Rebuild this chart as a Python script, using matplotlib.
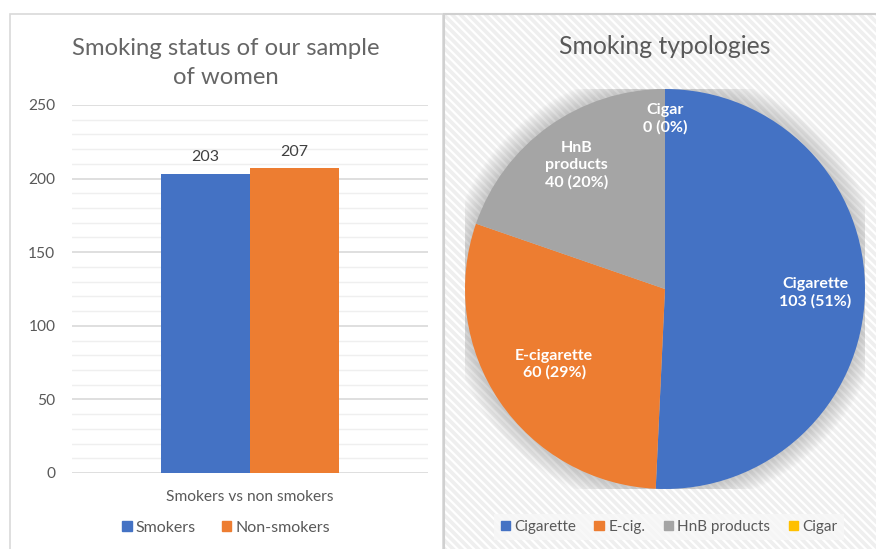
#!/usr/bin/env python3
import matplotlib
matplotlib.use("Agg")
import matplotlib.pyplot as plt
from matplotlib.patches import Rectangle, Circle, Patch
import numpy as np

# Data
bar_category = "Smokers vs non smokers"
bar_series = ["Smokers", "Non-smokers"]
bar_values = [203, 207]

pie_labels = ["Cigarette", "E-cigarette", "HnB\nproducts", "Cigar"]
pie_legend = ["Cigarette", "E-cig.", "HnB products", "Cigar"]
pie_values = [103, 60, 40, 0]
pie_pcts = ["51%", "29%", "20%", "0%"]

# Style
BLUE, ORANGE, GRAY, YELLOW = "#4472C4", "#ED7D31", "#A5A5A5", "#FFC000"
TXT = "#595959"
plt.rcParams['font.family'] = ['Lato', 'DejaVu Sans']
plt.rcParams['hatch.linewidth'] = 1.6

W, H = 876, 549
fig = plt.figure(figsize=(W / 100, H / 100), dpi=100)

def fx(px): return px / W
def fy(py): return 1 - py / H

# Panels
fig.patches.append(Rectangle((fx(10), fy(560)), fx(433), fy(14) - fy(560), transform=fig.transFigure,
                             facecolor="white", edgecolor="#d9d9d9", linewidth=1.2, zorder=-5))
fig.patches.append(Rectangle((fx(444), fy(560)), fx(440), fy(14) - fy(560), transform=fig.transFigure,
                             facecolor="#efefef", edgecolor="white", linewidth=0, hatch="\\\\\\\\",
                             zorder=-5))
fig.patches.append(Rectangle((fx(444), fy(560)), fx(440), fy(14) - fy(560), transform=fig.transFigure,
                             facecolor="none", edgecolor="#d0d0d0", linewidth=1.5, zorder=-4))

# Bar chart
ax = fig.add_axes([fx(72), fy(473), fx(428) - fx(72), fy(105) - fy(473)])
ax.set_facecolor("none")
x = np.array([-0.5, 0.5])
for i in range(len(bar_values)):
    b = ax.bar(x[i], bar_values[i], width=1.0, color=[BLUE, ORANGE][i], label=bar_series[i], zorder=3)
    ax.bar_label(b, padding=7, fontsize=11.5, color="#404040")
ax.set_xlim(-2, 2)
ax.set_ylim(0, 250)
ax.set_yticks(np.arange(0, 251, 50))
ax.set_yticks(np.arange(0, 251, 10), minor=True)
ax.grid(True, which="major", axis="y", color="#d9d9d9", linewidth=1.2, zorder=0)
ax.grid(True, which="minor", axis="y", color="#efefef", linewidth=1.0, zorder=0)
ax.set_xticks([0], [bar_category])
ax.tick_params(axis="x", length=0, pad=12, labelsize=11.2, labelcolor=TXT)
ax.tick_params(axis="y", which="both", length=0, pad=12, labelsize=11.2, labelcolor=TXT)
for s in ax.spines.values():
    s.set_visible(False)
fig.text(fx(226), fy(63), "Smoking status of our sample\nof women", ha="center", va="center",
         fontsize=17.2, color="#666666", linespacing=1.5)
fig.legend(handles=[Patch(color=BLUE), Patch(color=ORANGE)], labels=bar_series,
           loc="center", bbox_to_anchor=(fx(226), fy(528)), ncol=2, frameon=False,
           fontsize=11.5, labelcolor=TXT, handlelength=0.6, handleheight=0.6,
           handletextpad=0.25, columnspacing=1.6)

# Pie chart
pax = fig.add_axes([fx(465), fy(489), fx(865) - fx(465), fy(89) - fy(489)])
for k in range(14):
    pax.add_patch(Circle((0, 0), 1.0 + 0.007 * (14 - k), facecolor="#8a8a8a", alpha=0.03,
                         edgecolor="none", zorder=0))
wedges, _ = pax.pie(pie_values, colors=[BLUE, ORANGE, GRAY, YELLOW], startangle=90,
                    counterclock=False, radius=1.0, wedgeprops=dict(linewidth=0))
for w in wedges:
    w.set_zorder(2)
dists = [0.75, 0.67, 0.76, 0.85]
for w, lab, v, p, d in zip(wedges, pie_labels, pie_values, pie_pcts, dists):
    ang = np.deg2rad((w.theta1 + w.theta2) / 2)
    pax.text(d * np.cos(ang), d * np.sin(ang), f"{lab}\n{v} ({p})", ha="center", va="center",
             color="white", fontsize=11.5, fontweight="bold", linespacing=1.25, zorder=5)
pax.set_xlim(-1, 1)
pax.set_ylim(-1, 1)
pax.set_aspect("equal")
pax.axis("off")
fig.text(fx(665), fy(47), "Smoking typologies", ha="center", va="center", fontsize=17.8, color=TXT)
leg = fig.legend(handles=[Patch(color=c) for c in [BLUE, ORANGE, GRAY, YELLOW]], labels=pie_legend,
                 loc="center", bbox_to_anchor=(fx(669), fy(527)), ncol=4, frameon=True,
                 fontsize=11, labelcolor=TXT, handlelength=0.6, handleheight=0.6,
                 handletextpad=0.3, columnspacing=1.2, fancybox=False)
leg.get_frame().set_facecolor("#f7f7f7")
leg.get_frame().set_edgecolor("none")

fig.savefig("out.png", dpi=100)
